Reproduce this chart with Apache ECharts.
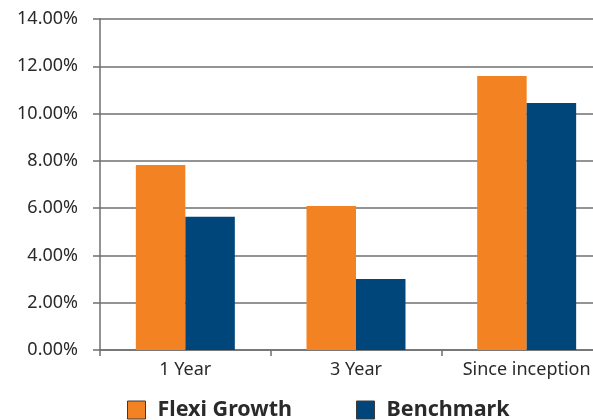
<!DOCTYPE html>
<html><head><meta charset="utf-8">
<script src="https://cdn.jsdelivr.net/npm/echarts@6/dist/echarts.min.js"></script>
<style>html,body{margin:0;padding:0;background:#fff}#c{width:593px;height:420px}</style>
</head><body><div id="c"></div>
<script>
const categories = ["1 Year", "3 Year", "Since inception"];
const flexiGrowth = [7.83, 6.09, 11.59];
const benchmark = [5.64, 3.0, 10.45];
const seriesNames = ["Flexi Growth", "Benchmark"];
const yTicks = { min: 0, max: 14, interval: 2 };

const FONT = '"Noto Sans", "Open Sans", sans-serif';
const chart = echarts.init(document.getElementById('c'), null, { renderer: 'canvas' });
chart.setOption({
  animation: false,
  color: ['#F38322', '#00467A'],
  grid: { left: 100, width: 512, top: 19, height: 331, containLabel: false, outerBoundsMode: 'none' },
  legend: {
    left: 127, top: 399, padding: 0,
    itemWidth: 18, itemHeight: 18, itemGap: 64,
    icon: 'rect',
    itemStyle: { borderColor: '#3a3a3a', borderWidth: 1 },
    textStyle: { fontFamily: FONT, fontSize: 21.5, fontWeight: 'bold', color: '#2a2a2a', padding: [0, 0, 0, 7] },
    data: seriesNames
  },
  xAxis: {
    type: 'category', data: categories,
    axisLine: { lineStyle: { color: '#6f6f6f', width: 1.5 } },
    axisTick: { show: true, length: 6, lineStyle: { color: '#6f6f6f', width: 1.5 } },
    axisLabel: { fontFamily: FONT, fontSize: 18, color: '#2a2a2a', margin: 11, interval: 0, hideOverlap: false }
  },
  yAxis: {
    type: 'value', min: yTicks.min, max: yTicks.max, interval: yTicks.interval,
    axisLine: { show: true, lineStyle: { color: '#6f6f6f', width: 1.5 } },
    axisTick: { show: true, length: 7, lineStyle: { color: '#6f6f6f', width: 1.5 } },
    splitLine: { lineStyle: { color: '#707070', width: 1.5 } },
    axisLabel: { fontFamily: FONT, fontSize: 18, color: '#2a2a2a', margin: 22,
      formatter: v => v.toFixed(2) + '%' }
  },
  series: [
    { name: seriesNames[0], type: 'bar', data: flexiGrowth, barGap: '0%', barCategoryGap: '42%' },
    { name: seriesNames[1], type: 'bar', data: benchmark, barGap: '0%', barCategoryGap: '42%' }
  ]
});
</script></body></html>
